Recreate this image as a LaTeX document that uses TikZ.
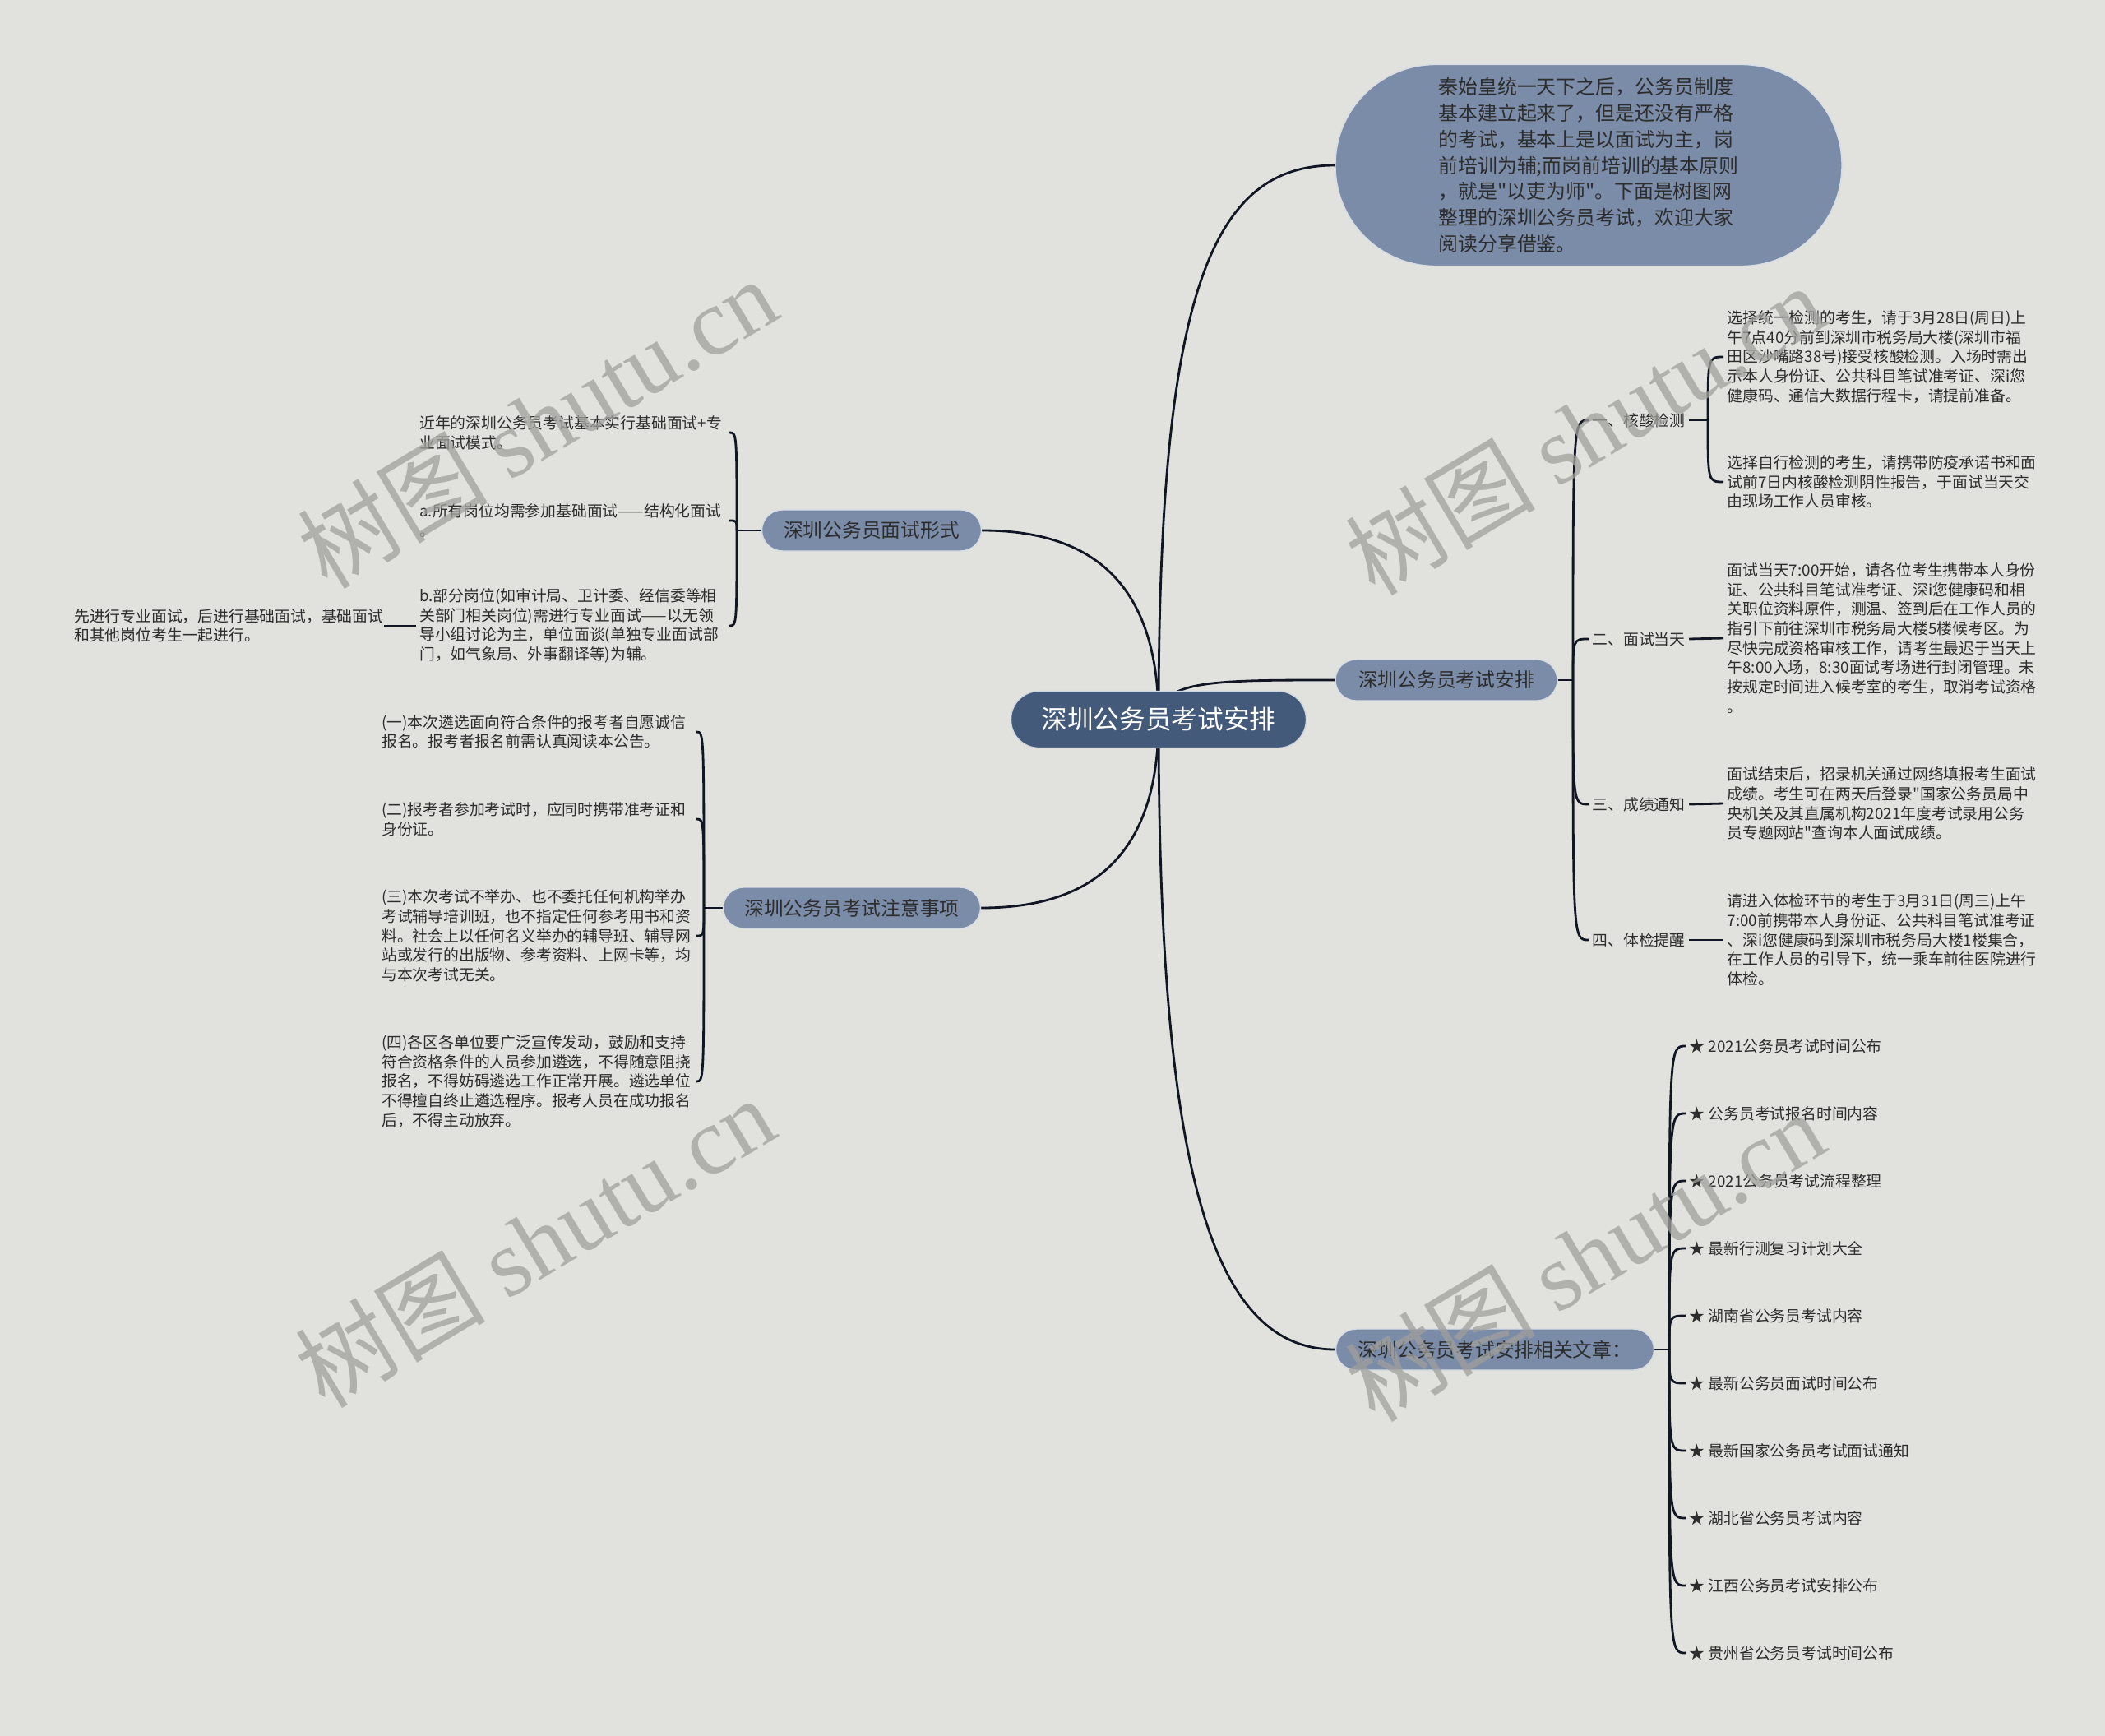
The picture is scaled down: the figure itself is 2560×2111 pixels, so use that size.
\documentclass[tikz,border=0pt]{standalone}
\usepackage{fontspec}
\setmainfont{Noto Sans CJK SC}[Ligatures=TeXOff]
\newfontfamily\wmfont{Liberation Serif}
\usetikzlibrary{backgrounds}
\definecolor{bgcol}{RGB}{225,226,221}
\definecolor{ctrblue}{RGB}{67,90,122}
\definecolor{brblue}{RGB}{122,140,168}
\definecolor{txtgray}{RGB}{45,45,45}
\definecolor{linecol}{RGB}{18,22,36}
\definecolor{wmgray}{RGB}{160,160,156}

\begin{document}
\begin{tikzpicture}[x=0.1mm, y=-0.1mm,
  main/.style = {fill=ctrblue, text=white, draw=white!75!ctrblue, rounded corners=3.4mm, minimum width=35.9mm, minimum height=6.9mm, font=\fontsize{9}{11}\selectfont},
  topic/.style = {fill=brblue, text=txtgray, draw=white!70!brblue, rounded corners=2.5mm, minimum height=5mm, inner xsep=1mm, font=\fontsize{6.75}{8}\selectfont},
  leaf/.style = {text=txtgray, align=left, inner xsep=0.4mm, inner ysep=0.5mm, font=\fontsize{5.35}{6.75}\selectfont},
  link/.style = {draw=linecol, line width=0.8pt},
  wm/.style = {text=wmgray, opacity=0.75, rotate=31, font=\fontsize{33}{33}\selectfont}]
\useasboundingbox (0,0) rectangle (2560,2111);

% centre and main topics
\node[main] (root) at (1409,875) {深圳公务员考试安排};
\node[topic, minimum width=61.6mm, minimum height=24.5mm, rounded corners=12.2mm, align=left, font=\fontsize{6.8}{9.05}\selectfont] (intro) at (1932,201)
  {秦始皇统一天下之后，公务员制度\\基本建立起来了，但是还没有严格\\的考试，基本上是以面试为主，岗\\前培训为辅;而岗前培训的基本原则\\，就是"以吏为师"。下面是树图网\\整理的深圳公务员考试，欢迎大家\\阅读分享借鉴。};
\node[topic, minimum width=26.7mm] (form) at (1060,645) {深圳公务员面试形式};
\node[topic, minimum width=31.3mm] (note) at (1036,1104) {深圳公务员考试注意事项};
\node[topic, minimum width=27mm] (plan) at (1759,827) {深圳公务员考试安排};
\node[topic, minimum width=38.7mm] (rel) at (1818,1641) {深圳公务员考试安排相关文章：};

% interview form
\node[leaf, anchor=east, text width=37.2mm] (c1) at (887,526) {近年的深圳公务员考试基本实行基础面试+专\\业面试模式。};
\node[leaf, anchor=east, text width=37.2mm] (c2) at (887,633) {a.所有岗位均需参加基础面试——结构化面试\\。};
\node[leaf, anchor=east, text width=37.2mm] (c3) at (887,761) {b.部分岗位(如审计局、卫计委、经信委等相\\关部门相关岗位)需进行专业面试——以无领\\导小组讨论为主，单位面谈(单独专业面试部\\门，如气象局、外事翻译等)为辅。};
\node[leaf, anchor=east, text width=37.2mm] (c3a) at (467,761) {先进行专业面试，后进行基础面试，基础面试\\和其他岗位考生一起进行。};

% notes
\node[leaf, anchor=east, text width=37.8mm] (d1) at (847,890) {(一)本次遴选面向符合条件的报考者自愿诚信\\报名。报考者报名前需认真阅读本公告。};
\node[leaf, anchor=east, text width=37.8mm] (d2) at (847,996) {(二)报考者参加考试时，应同时携带准考证和\\身份证。};
\node[leaf, anchor=east, text width=37.8mm] (d3) at (847,1138) {(三)本次考试不举办、也不委托任何机构举办\\考试辅导培训班，也不指定任何参考用书和资\\料。社会上以任何名义举办的辅导班、辅导网\\站或发行的出版物、参考资料、上网卡等，均\\与本次考试无关。};
\node[leaf, anchor=east, text width=37.8mm] (d4) at (847,1315) {(四)各区各单位要广泛宣传发动，鼓励和支持\\符合资格条件的人员参加遴选，不得随意阻挠\\报名，不得妨碍遴选工作正常开展。遴选单位\\不得擅自终止遴选程序。报考人员在成功报名\\后，不得主动放弃。};

% exam plan
\node[leaf, anchor=west] (r1) at (1932,511) {一、核酸检测};
\node[leaf, anchor=west] (r2) at (1932,777) {二、面试当天};
\node[leaf, anchor=west] (r3) at (1932,978) {三、成绩通知};
\node[leaf, anchor=west] (r4) at (1932,1143) {四、体检提醒};
\node[leaf, anchor=west] (r1a) at (2096,434) {选择统一检测的考生，请于3月28日(周日)上\\午7点40分前到深圳市税务局大楼(深圳市福\\田区沙嘴路38号)接受核酸检测。入场时需出\\示本人身份证、公共科目笔试准考证、深i您\\健康码、通信大数据行程卡，请提前准备。};
\node[leaf, anchor=west] (r1b) at (2096,586) {选择自行检测的考生，请携带防疫承诺书和面\\试前7日内核酸检测阴性报告，于面试当天交\\由现场工作人员审核。};
\node[leaf, anchor=west] (r2a) at (2096,776) {面试当天7:00开始，请各位考生携带本人身份\\证、公共科目笔试准考证、深i您健康码和相\\关职位资料原件，测温、签到后在工作人员的\\指引下前往深圳市税务局大楼5楼候考区。为\\尽快完成资格审核工作，请考生最迟于当天上\\午8:00入场，8:30面试考场进行封闭管理。未\\按规定时间进入候考室的考生，取消考试资格\\。};
\node[leaf, anchor=west] (r3a) at (2096,977) {面试结束后，招录机关通过网络填报考生面试\\成绩。考生可在两天后登录"国家公务员局中\\央机关及其直属机构2021年度考试录用公务\\员专题网站"查询本人面试成绩。};
\node[leaf, anchor=west] (r4a) at (2096,1143) {请进入体检环节的考生于3月31日(周三)上午\\7:00前携带本人身份证、公共科目笔试准考证\\、深i您健康码到深圳市税务局大楼1楼集合，\\在工作人员的引导下，统一乘车前往医院进行\\体检。};

% related articles
\foreach \t [count=\i] in {2021公务员考试时间公布, 公务员考试报名时间内容, 2021公务员考试流程整理, 最新行测复习计划大全, 湖南省公务员考试内容, 最新公务员面试时间公布, 最新国家公务员考试面试通知, 湖北省公务员考试内容, 江西公务员考试安排公布, 贵州省公务员考试时间公布}
  \node[leaf, anchor=west] (rel\i) at (2050,{1272+82*(\i-1)}) {★ \t};

\coordinate (fform) at (896,645);
\coordinate (fnote) at (856,1104);
\coordinate (fplan) at (1913,827);
\coordinate (fr1) at (2077,511);
\coordinate (frel) at (2030,1641);

\begin{scope}[on background layer]
  \fill[bgcol] (0,0) rectangle (2560,2111);
  \draw[link] (root.center) .. controls +(0,-520) and +(-150,0) .. (intro.west);
  \draw[link] (root.center) .. controls +(0,-170) and +(130,0) .. (form.east);
  \draw[link] (root.center) .. controls +(0,170) and +(130,0) .. (note.east);
  \draw[link] (root.center) .. controls +(0,-48) and +(-150,0) .. (plan.west);
  \draw[link] (root.center) .. controls +(0,550) and +(-150,0) .. (rel.west);
  \draw[link] (form.west) -- (fform);
  \foreach \n in {c1,c2,c3} \draw[link] (fform) .. controls (fform |- \n.east) .. (\n.east);
  \draw[link] (c3.west) -- (c3a.east);
  \draw[link] (note.west) -- (fnote);
  \foreach \n in {d1,d2,d3,d4} \draw[link] (fnote) .. controls (fnote |- \n.east) .. (\n.east);
  \draw[link] (plan.east) -- (fplan);
  \foreach \n in {r1,r2,r3,r4} \draw[link] (fplan) .. controls (fplan |- \n.west) .. (\n.west);
  \draw[link] (r1.east) -- (fr1);
  \foreach \n in {r1a,r1b} \draw[link] (fr1) .. controls (fr1 |- \n.west) .. (\n.west);
  \draw[link] (r2.east) -- (r2a.west);
  \draw[link] (r3.east) -- (r3a.west);
  \draw[link] (r4.east) -- (r4a.west);
  \draw[link] (rel.east) -- (frel);
  \foreach \i in {1,...,10} \draw[link] (frel) .. controls (frel |- rel\i.west) .. (rel\i.west);
\end{scope}

% watermarks
\node[wm] (wm1) at (653,514) {树图 {\wmfont shutu.cn}};
\node[wm] (wm2) at (650,1510) {树图 {\wmfont shutu.cn}};
\node[wm] (wm3) at (1927,522) {树图 {\wmfont shutu.cn}};
\node[wm] (wm4) at (1927,1527) {树图 {\wmfont shutu.cn}};
\end{tikzpicture}
\end{document}
